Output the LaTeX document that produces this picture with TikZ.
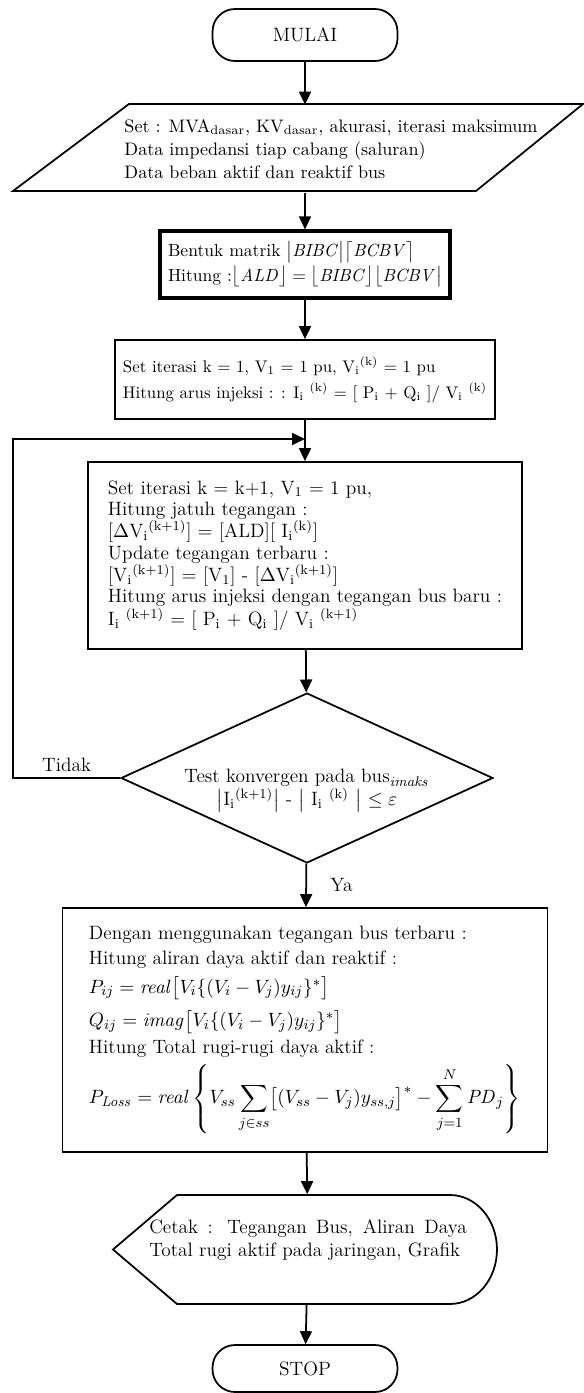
\documentclass[tikz,border=0pt]{standalone}
\usepackage{amsmath}
\usetikzlibrary{shapes.geometric,arrows.meta}

\begin{document}
\begin{tikzpicture}[x=0.02cm,y=-0.02cm,
    font=\fontsize{11}{13}\selectfont,
    line width=1pt,
    arr/.style={-{Triangle[length=0.26cm,width=0.24cm]}},
    term/.style={draw,rounded corners=0.45cm,minimum width=3.7cm},
    proc/.style={draw,rectangle,align=left}]
  \useasboundingbox (0,0) rectangle (584,1393);

  \node[term,minimum height=1.04cm] (mulai) at (305,35) {MULAI};

  % input data
  \node[minimum height=1.74cm,inner sep=0,align=left,
        font=\fontsize{10.3}{13.3}\selectfont] (data) at (331,149)
    {Set : MVA\textsubscript{dasar}, KV\textsubscript{dasar}, akurasi, iterasi maksimum\\
     Data impedansi tiap cabang (saluran)\\
     Data beban aktif dan reaktif bus};
  \draw (129,104) -- (583,104) -- (476,191) -- (13,191) -- cycle;

  \node[proc,line width=1.8pt,minimum width=5.8cm,minimum height=1.34cm,
        font=\fontsize{10}{14}\selectfont] (bentuk) at (305,264.5)
    {Bentuk matrik $\bigl\lvert \mathit{BIBC}\bigr\rvert\bigl\lceil \mathit{BCBV}\bigr\rceil$\\
     Hitung :$\bigl\lfloor \mathit{ALD}\bigr\rfloor = \bigl\lfloor \mathit{BIBC}\bigr\rfloor\bigl\lfloor \mathit{BCBV}\bigr\rvert$};

  \node[proc,minimum width=7.6cm,minimum height=1.58cm,inner xsep=3pt,
        font=\fontsize{9.6}{14.8}\selectfont] (awal) at (305,379.5)
    {Set iterasi k = 1, V\textsubscript{1} = 1 pu, V\textsubscript{i}\textsuperscript{(k)} = 1 pu\\
     Hitung arus injeksi : : I\textsubscript{i} \textsuperscript{(k)} = [ P\textsubscript{i} + Q\textsubscript{i} ]/ V\textsubscript{i} \textsuperscript{(k)}};

  \node[proc,minimum width=8.68cm,minimum height=3.74cm,
        font=\fontsize{11}{12}\selectfont] (iterasi) at (305,555.5)
    {Set iterasi k = k+1, V\textsubscript{1} = 1 pu,\\
     Hitung jatuh tegangan :\\
     {[}$\Delta$V\textsubscript{i}\textsuperscript{(k+1)}] = [ALD][ I\textsubscript{i}\textsuperscript{(k)}]\\
     Update tegangan terbaru :\\
     {[}V\textsubscript{i}\textsuperscript{(k+1)}] = [V\textsubscript{1}] - [$\Delta$V\textsubscript{i}\textsuperscript{(k+1)}]\\
     Hitung arus injeksi dengan tegangan bus baru :\\
     I\textsubscript{i} \textsuperscript{(k+1)} = [ P\textsubscript{i} + Q\textsubscript{i} ]/ V\textsubscript{i} \textsuperscript{(k+1)}};

  % decision
  \node[draw,diamond,aspect=2.19,minimum width=7.44cm,minimum height=3.4cm,inner sep=0] (test) at (307,778) {};
  \node[align=center] (testtext) at (307,791)
    {Test konvergen pada bus$_{\mathit{imaks}}$\\
     $\bigl\lvert$I\textsubscript{i}\textsuperscript{(k+1)}$\bigr\rvert$ - $\bigl\lvert$ I\textsubscript{i} \textsuperscript{(k)} $\bigr\rvert$ $\le \varepsilon$};

  \node[proc,minimum width=9.7cm,minimum height=4.88cm,
        font=\fontsize{11}{14.2}\selectfont] (hasil) at (305,1030)
    {Dengan menggunakan tegangan bus terbaru :\\
     Hitung aliran daya aktif dan reaktif :\\[2pt]
     $P_{ij} = \mathit{real}\bigl[V_i\{(V_i - V_j)y_{ij}\}^*\bigr]$\\[5pt]
     $Q_{ij} = \mathit{imag}\bigl[V_i\{(V_i - V_j)y_{ij}\}^*\bigr]$\\[1pt]
     Hitung Total rugi-rugi daya aktif :\\[3pt]
     $\displaystyle P_{\mathit{Loss}} = \mathit{real}\left\{V_{ss}\sum_{j\in ss}\bigl[(V_{ss}-V_j)y_{ss,j}\bigr]^* - \sum_{j=1}^{N}\mathit{PD}_j\right\}$};

  % output
  \node[minimum height=2.18cm,inner sep=0,text width=6.35cm,align=justify] (cetak) at (308,1249.5)
    {Cetak : Tegangan Bus, Aliran Daya\linebreak Total rugi aktif pada jaringan, Grafik\\\mbox{}};
  \draw (177,1195) -- (450,1195) arc[start angle=90,end angle=-90,x radius=0.94cm,y radius=1.09cm]
        -- (177,1304) -- (113,1249.5) -- cycle;

  \node[term,minimum height=0.94cm] (stop) at (305,1368.5) {STOP};

  \coordinate (back) at (13,439);
  \coordinate (join) at (305,439);

  \draw[arr] (mulai) -- (mulai |- data.north);
  \draw[arr] (mulai |- data.south) -- (bentuk);
  \draw[arr] (bentuk) -- (awal);
  \draw[arr] (awal) -- (iterasi);
  \draw[arr] (iterasi) -- (test);
  \draw[arr] (test) -- node[right=0.35cm] {Ya} (hasil);
  \draw[arr] (test.west) -- node[above] {Tidak} (test.west -| back) -- (back) -- (join);
  \draw[arr] (hasil) -- (cetak);
  \draw[arr] (cetak) -- (stop);
\end{tikzpicture}
\end{document}
